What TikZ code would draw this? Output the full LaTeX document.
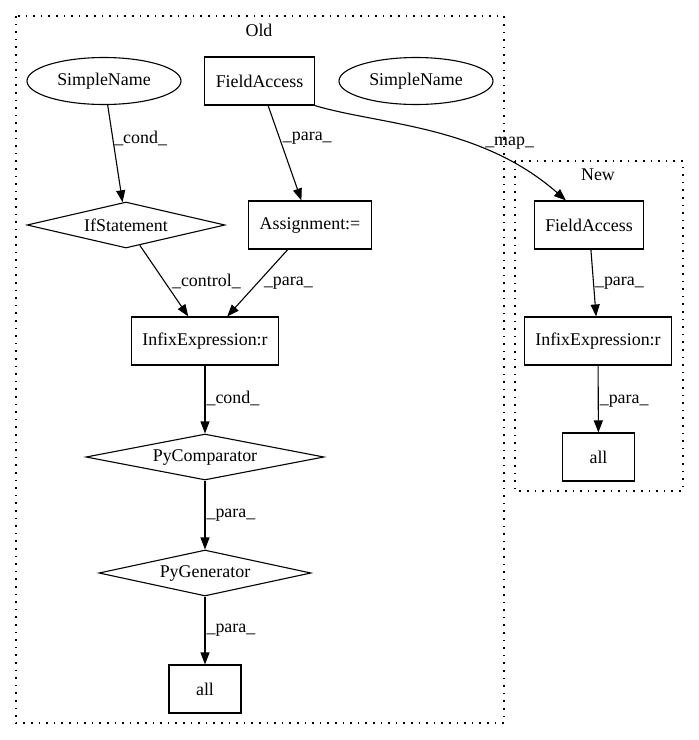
\documentclass[tikz,border=0pt]{standalone}
\usepackage{fontspec}
\setmainfont{Liberation Serif}
\usetikzlibrary{shapes.geometric,arrows.meta}

\begin{document}
\begin{tikzpicture}[x=1pt,y=-1pt,->,>={Triangle[length=12pt,width=9pt]},line width=1.1pt,every node/.style={font=\fontsize{17.9}{21}\selectfont},box node/.style={rectangle,draw,minimum width=72pt,minimum height=48pt,inner xsep=11pt},oval node/.style={ellipse,draw,minimum width=154pt,minimum height=47pt,inner sep=0pt},cond node/.style={diamond,draw,aspect=5,inner sep=0pt,minimum height=46pt},lbl/.style={anchor=west,inner sep=1pt},cluster/.style={draw,-,dash pattern=on 1.6pt off 6pt}]

            \useasboundingbox (0,0) rectangle (699,740);

            \draw[cluster] (16,16) rectangle (504,723);
            \draw[cluster] (515,161) rectangle (683,491);
            \node (old) at (259,30) {Old};
            \node (new) at (598,175) {New};

            \node[oval node] (1) at (104,81) {SimpleName};
            \node[box node] (2) at (259.5,81) {FieldAccess};
            \node[oval node] (3) at (416,81) {SimpleName};
            \node[cond node, minimum width=198pt] (4) at (126,225) {IfStatement};
            \node[box node] (5) at (310,225) {Assignment:=};
            \node[box node] (6) at (205,341) {InfixExpression:r};
            \node[cond node, minimum width=238pt] (7) at (205,457) {PyComparator};
            \node[cond node, minimum width=212pt] (8) at (205,573) {PyGenerator};
            \node[box node] (9) at (205,689) {all};
            \node[box node] (10) at (589,225) {FieldAccess};
            \node[box node] (11) at (598,341) {InfixExpression:r};
            \node[box node] (12) at (598.5,457) {all};

            \draw (1) to node[lbl,pos=0.34] {\_cond\_} (4);
            \draw (2) to node[lbl,pos=0.34,xshift=2pt] {\_para\_} (5);
            \draw (2.south east) .. controls (380,125) and (480,125) .. ([xshift=-23pt]10.north) node[pos=0.75,anchor=base,xshift=10pt,yshift=11pt] {\_map\_};
            \draw (4) to node[lbl,pos=0.51,xshift=6pt] {\_control\_} (6);
            \draw (5) to node[lbl,pos=0.5,xshift=5pt] {\_para\_} (6);
            \draw (6) to node[lbl,pos=0.49] {\_cond\_} (7);
            \draw (7) to node[lbl,pos=0.5] {\_para\_} (8);
            \draw (8) to node[lbl,pos=0.49] {\_para\_} (9);
            \draw (10) to node[lbl,pos=0.5] {\_para\_} (11);
            \draw (11) to node[lbl,pos=0.54] {\_para\_} (12);

            ;
        \end{tikzpicture}
\end{document}
